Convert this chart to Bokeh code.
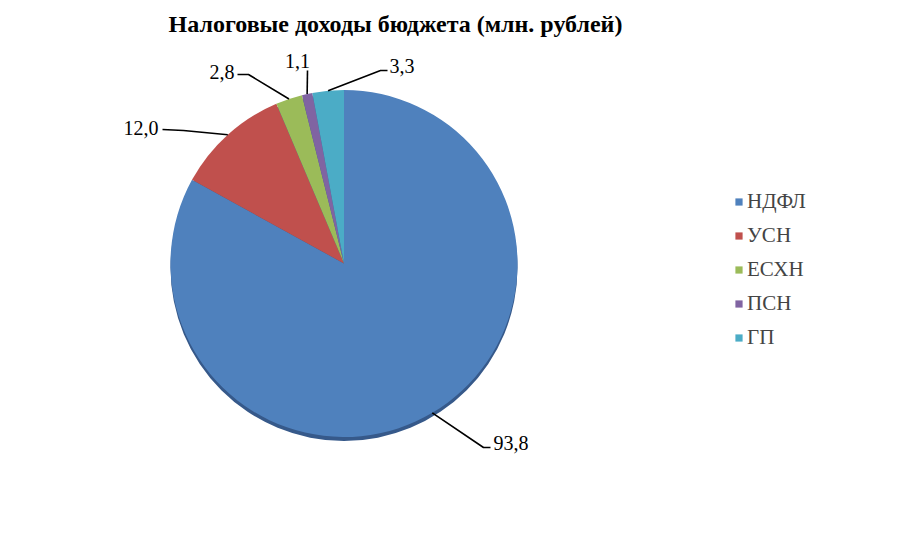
import numpy as np
from bokeh.plotting import figure
from bokeh.models import Range1d, Label, Legend, LegendItem, ColumnDataSource
from bokeh.embed import file_html
from bokeh.resources import INLINE

categories = ["НДФЛ", "УСН", "ЕСХН", "ПСН", "ГП"]
values = [93.8, 12.0, 2.8, 1.1, 3.3]
labels = ["93,8", "12,0", "2,8", "1,1", "3,3"]
colors = ["#4F81BD", "#C0504D", "#9BBB59", "#8064A2", "#4BACC6"]
title_text = "Налоговые доходы бюджета (млн. рублей)"

W, H = 881, 541
SERIF = "'Liberation Serif', 'Times New Roman', serif"

def Y(img_y):
    return H - img_y

def X(img_x):
    return img_x

p = figure(width=W, height=H, output_backend="svg", toolbar_location=None,
           x_range=Range1d(0, W), y_range=Range1d(0, H), min_border=0)
p.axis.visible = False
p.grid.visible = False
p.outline_line_color = None

cx, cy, r = X(343.5), Y(263), 173.5

vals = np.array(values)
frac = vals / vals.sum()
cum = np.concatenate([[0], np.cumsum(frac)])
start = np.pi / 2 - cum[1:] * 2 * np.pi
end = np.pi / 2 - cum[:-1] * 2 * np.pi

# shadow
p.wedge(x=[cx], y=[cy - 4], radius=r, start_angle=[0], end_angle=[2 * np.pi],
        fill_color="#36598A", line_color=None)

src = ColumnDataSource(dict(cat=categories, start=start, end=end, color=colors,
                            x=[cx] * 5, y=[cy] * 5))
wr = p.wedge(x="x", y="y", radius=r, start_angle="start", end_angle="end",
             fill_color="color", line_color=None, source=src)

# leader lines
mid = np.pi / 2 - (cum[:-1] + frac / 2) * 2 * np.pi
ex = cx + r * np.cos(mid)
ey = cy + r * np.sin(mid)
elbows = [[(483, 447), (490, 447)],
          [(183, 130), (162, 129)],
          [(248, 74), (237, 74)],
          [(307, 70)],
          [(380, 70), (387, 70)]]
label_pos = [(493, 442, "left"), (158, 127, "right"), (234, 71, "right"),
             (297, 60, "center"), (389, 65, "left")]
for i in range(5):
    xs = [ex[i]] + [X(a) for a, b in elbows[i]]
    ys = [ey[i]] + [Y(b) for a, b in elbows[i]]
    p.line(xs, ys, line_color="black", line_width=1.6)
    lx, ly, al = label_pos[i]
    p.add_layout(Label(x=X(lx), y=Y(ly), text=labels[i], text_align=al,
                       text_baseline="middle", text_font=SERIF,
                       text_font_size="20px", text_color="black"))

p.add_layout(Label(x=X(395), y=Y(23), text=title_text, text_align="center",
                   text_baseline="middle", text_font=SERIF, text_font_style="bold",
                   text_font_size="24px", text_color="black"))

items = [LegendItem(label=categories[i], renderers=[wr], index=i) for i in range(5)]
legend = Legend(items=items, location=(X(734), Y(350)), orientation="vertical",
                glyph_width=9, glyph_height=9, label_standoff=4, spacing=9,
                padding=0, margin=0, border_line_color=None,
                background_fill_alpha=0, label_text_font=SERIF,
                label_text_font_size="21px", label_height=22)
p.add_layout(legend)

open("out.html", "w").write(file_html(p, INLINE))
